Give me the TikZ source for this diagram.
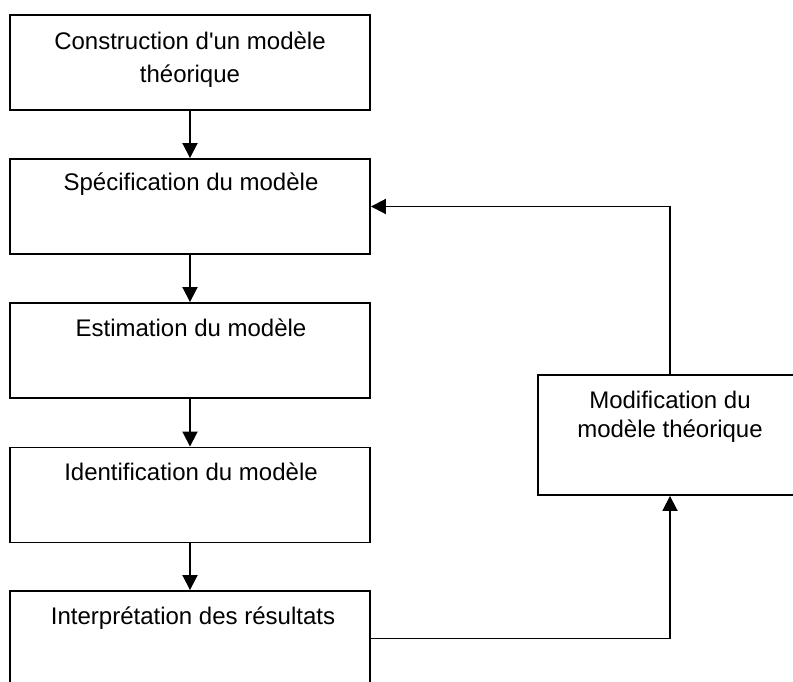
\documentclass[tikz,border=0pt]{standalone}
\usepackage{fontspec}
\setmainfont{Liberation Sans}[Ligatures=TeXOff]
\usetikzlibrary{arrows.meta}
\begin{document}
\begin{tikzpicture}[x=1pt,y=-1pt,
  box/.style={draw=black,line width=1.9pt,minimum width=360pt,minimum height=95pt,inner sep=0pt},
  txt/.style={anchor=base,inner sep=0pt,font=\fontsize{24pt}{29pt}\selectfont},
  conn/.style={line width=1.9pt,-{Triangle[length=15pt,width=15pt]}}]
\path[use as bounding box,clip] (0,0) rectangle (793,682);
% boxes
\node[box] (b1) at (190,62.5) {};
\node[box] (b2) at (190,206.5) {};
\node[box] (b3) at (190,350.5) {};
\node[box] (b4) at (190,495) {};
\node[box] (b5) at (190,638.5) {};
\node[box,minimum width=264pt,minimum height=120pt] (bm) at (670,435) {};
% texts
\node[txt] (t1a) at (190,50) {Construction d'un modèle};
\node[txt] (t1b) at (190,83) {théorique};
\node[txt] (t2) at (191,190) {Spécification du modèle};
\node[txt] (t3) at (191,336) {Estimation du modèle};
\node[txt] (t4) at (191,480) {Identification du modèle};
\node[txt] (t5) at (193,624) {Interprétation des résultats};
\node[txt] (tma) at (670,408) {Modification du};
\node[txt] (tmb) at (670,437) {modèle théorique};
% connectors
\draw[conn] (b1.south) -- (b2.north);
\draw[conn] (b2.south) -- (b3.north);
\draw[conn] (b3.south) -- (b4.north);
\draw[conn] (b4.south) -- (b5.north);
\draw[conn] (b5.east) -| (bm.south);
\draw[conn] (bm.north) |- (b2.east);
\end{tikzpicture}
\end{document}
